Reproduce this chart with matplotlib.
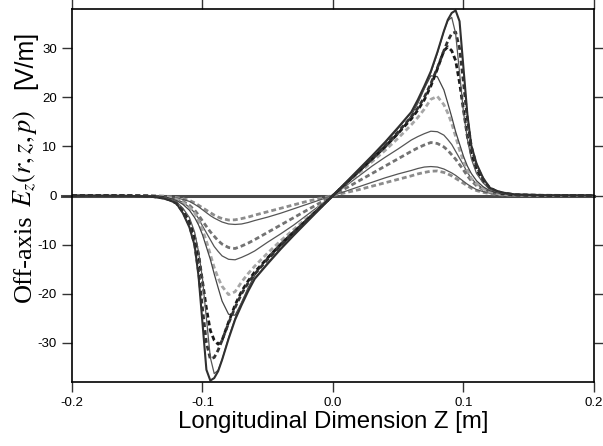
import numpy as np
import matplotlib
matplotlib.use("Agg")
import matplotlib.pyplot as plt

plt.rcParams['axes.unicode_minus'] = False
plt.rcParams['lines.scale_dashes'] = False

# 1. Values (positive half, z >= 0); the field is odd in z
z_half = [0.0, 0.01, 0.02, 0.03, 0.04, 0.05, 0.06, 0.065, 0.07, 0.075, 0.08, 0.085,
          0.088, 0.091, 0.094, 0.097, 0.1, 0.103, 0.106, 0.11, 0.115, 0.12, 0.125,
          0.13, 0.14, 0.16, 0.2]

ez_a = [0, 2.7, 5.4, 8.1, 10.9, 13.9, 17.0, 19.5, 22.3, 25.3, 29.2, 33.5,
        35.8, 37.2, 37.7, 35.5, 26.0, 16.5, 10.2, 6.5, 3.6, 1.6, 1.0, 0.6, 0.2, 0.05, 0]
ez_b = [0, 2.6, 5.3, 8.0, 10.7, 13.7, 16.9, 19.0, 21.8, 25.0, 29.0, 33.5,
        35.6, 36.3, 33.0, 25.0, 17.0, 11.5, 7.5, 4.5, 2.6, 1.3, 0.7, 0.4, 0.15, 0.04, 0]
ez_c = [0, 2.5, 5.0, 7.6, 10.2, 13.0, 16.0, 17.8, 20.0, 22.8, 26.0, 29.5,
        31.5, 33.0, 33.3, 30.0, 23.0, 15.5, 10.0, 6.0, 3.3, 1.6, 0.9, 0.5, 0.15, 0.04, 0]
ez_d = [0, 2.5, 5.0, 7.5, 10.0, 12.7, 15.6, 17.4, 19.5, 22.3, 25.8, 29.5,
        30.3, 29.5, 27.5, 23.0, 17.5, 12.0, 8.5, 5.3, 3.0, 1.5, 0.8, 0.4, 0.12, 0.03, 0]
ez_e = [0, 2.4, 4.8, 7.2, 9.7, 12.5, 16.3, 18.8, 21.8, 24.4, 24.2, 21.5,
        18.8, 16.0, 13.0, 10.5, 8.0, 6.0, 4.5, 3.0, 1.8, 1.0, 0.6, 0.35, 0.1, 0.03, 0]
ez_f = [0, 2.3, 4.6, 6.9, 9.2, 11.7, 14.4, 15.9, 17.6, 19.6, 20.2, 18.5,
        16.8, 14.7, 12.0, 9.3, 7.0, 5.2, 3.5, 2.4, 1.4, 0.8, 0.45, 0.25, 0.1, 0.03, 0]
ez_g = [0, 2.0, 4.0, 6.0, 7.8, 9.5, 11.3, 12.0, 12.6, 13.1, 13.0, 12.3,
        11.4, 10.4, 9.0, 7.6, 6.2, 4.7, 3.5, 2.4, 1.4, 0.8, 0.45, 0.25, 0.1, 0.03, 0]
ez_h = [0, 1.5, 3.0, 4.5, 6.0, 7.5, 9.0, 9.7, 10.3, 10.8, 10.6, 9.9,
        9.2, 8.3, 7.4, 6.3, 5.2, 4.0, 3.0, 2.0, 1.2, 0.7, 0.4, 0.2, 0.08, 0.02, 0]
ez_i = [0, 0.9, 1.8, 2.7, 3.6, 4.4, 5.1, 5.5, 5.8, 5.9, 5.8, 5.4,
        5.0, 4.6, 4.1, 3.5, 2.9, 2.3, 1.8, 1.2, 0.8, 0.5, 0.3, 0.15, 0.06, 0.02, 0]
ez_j = [0, 0.6, 1.2, 1.9, 2.6, 3.3, 4.0, 4.4, 4.7, 4.95, 5.0, 4.7,
        4.4, 4.0, 3.5, 3.0, 2.5, 2.0, 1.5, 1.0, 0.65, 0.4, 0.25, 0.12, 0.05, 0.02, 0]

x_ticks = [-0.2, -0.1, 0.0, 0.1, 0.2]
x_tick_labels = ["-0.2", "-0.1", "0.0", "0.1", "0.2"]
y_ticks = [-30, -20, -10, 0, 10, 20, 30]


def full_curve(half):
    # mirror the read half: E_z(-z) = -E_z(z)
    zh = np.array(z_half)
    eh = np.array(half, dtype=float)
    z = np.concatenate([-zh[:0:-1], zh])
    e = np.concatenate([-eh[:0:-1], eh])
    return z, e


# 2. Figure and axes
fig = plt.figure(figsize=(6.03, 4.46), dpi=100)
ax = fig.add_axes([0.1194, 0.1435, 0.8656, 0.8363])

# zero reference line (runs a little past the left spine)
ax.plot([-0.2077, 0.2], [0, 0], color='#4a4a4a', lw=2.2, clip_on=False, zorder=1)

dash = (0, (3.5, 2.2))
styles = [
    (ez_j, dict(color='#8c8c8c', lw=2.0, ls=dash)),
    (ez_i, dict(color='#555555', lw=0.9, ls='-')),
    (ez_h, dict(color='#737373', lw=2.0, ls=dash)),
    (ez_g, dict(color='#555555', lw=0.9, ls='-')),
    (ez_f, dict(color='#a6a6a6', lw=2.0, ls=dash)),
    (ez_e, dict(color='#444444', lw=0.9, ls='-')),
    (ez_d, dict(color='#1a1a1a', lw=2.0, ls=dash)),
    (ez_c, dict(color='#333333', lw=2.0, ls=dash)),
    (ez_b, dict(color='#555555', lw=0.9, ls='-')),
    (ez_a, dict(color='#303030', lw=1.5, ls='-')),
]
for vals, kw in styles:
    z, e = full_curve(vals)
    ax.plot(z, e, zorder=2, **kw)

ax.set_xlim(-0.2, 0.2)
ax.set_ylim(-38, 38)
ax.set_xticks(x_ticks)
ax.set_xticklabels(x_tick_labels)
ax.set_yticks(y_ticks)
ax.tick_params(direction='out', length=7, width=1, color='#333333',
               top=True, right=True, labelsize=9.5, pad=4)
for lab in ax.get_xticklabels() + ax.get_yticklabels():
    lab.set_fontfamily('Liberation Sans')
for s in ax.spines.values():
    s.set_linewidth(1.2)

ax.set_xlabel("Longitudinal Dimension Z [m]", fontsize=17.3,
              fontfamily='Liberation Sans', labelpad=1)

# 3. y label in three fonts, stacked bottom to top
fig.text(25 / 603, 1 - 258 / 446, "Off-axis", rotation=90, ha='center', va='center',
         fontsize=19, fontfamily='Liberation Serif')
fig.text(25 / 603, 1 - 158 / 446, r"$E_z(r,z,p)$", rotation=90, ha='center', va='center',
         fontsize=19, math_fontfamily='stix')
fig.text(25 / 603, 1 - 60 / 446, "[V/m]", rotation=90, ha='center', va='center',
         fontsize=18, fontfamily='Liberation Sans')

fig.savefig("out.png", dpi=100)
print("saved out.png")
